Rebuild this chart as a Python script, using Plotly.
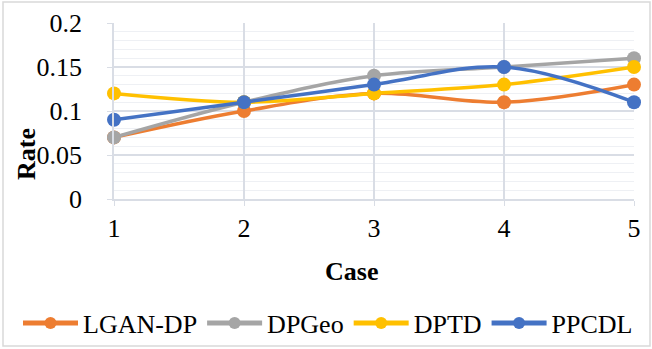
import plotly.graph_objects as go

cases = [1, 2, 3, 4, 5]
lgan_dp = [0.07, 0.10, 0.12, 0.11, 0.13]
dpgeo = [0.07, 0.11, 0.14, 0.15, 0.16]
dptd = [0.12, 0.11, 0.12, 0.13, 0.15]
ppcdl = [0.09, 0.11, 0.13, 0.15, 0.11]

series = [
    ("LGAN-DP", lgan_dp, "#ED7D31"),
    ("DPGeo", dpgeo, "#A5A5A5"),
    ("DPTD", dptd, "#FFC000"),
    ("PPCDL", ppcdl, "#4472C4"),
]

FONT = "Liberation Serif"
W, H = 652, 349
L, R, T, B = 114, 18, 23, 150
pw, ph = W - L - R, H - T - B

fig = go.Figure()
for name, vals, col in series:
    fig.add_trace(go.Scatter(
        x=cases, y=vals, name=name, mode="lines+markers",
        line=dict(color=col, width=3.5, shape="spline", smoothing=1),
        marker=dict(color=col, size=14),
        cliponaxis=False,
    ))

grid = "#D9DDE5"
fig.update_layout(
    width=W, height=H,
    margin=dict(l=L, r=R, t=T, b=B, autoexpand=False),
    paper_bgcolor="white", plot_bgcolor="white",
    font=dict(family=FONT, size=26, color="black"),
    showlegend=True,
    legend=dict(orientation="h", x=(18 - L) / pw, xanchor="left",
                y=(T + ph - 323) / ph, yanchor="middle",
                font=dict(size=26, family=FONT, color="black"), itemwidth=55,
                itemsizing="constant", bgcolor="rgba(0,0,0,0)"),
    xaxis=dict(range=[1, 5], tickvals=cases, ticktext=[str(c) for c in cases],
               showgrid=True, gridcolor=grid, gridwidth=1.5, zeroline=False,
               showline=True, linecolor=grid, linewidth=1.5,
               ticks="outside", ticklen=5, tickcolor=grid, ticklabelstandoff=0,
               tickfont=dict(size=26, family=FONT, color="black")),
    yaxis=dict(range=[0, 0.2], tickvals=[0, 0.05, 0.1, 0.15, 0.2],
               ticktext=["0", "0.05", "0.1", "0.15", "0.2"],
               showgrid=True, gridcolor=grid, gridwidth=1.5, zeroline=False,
               showline=True, linecolor=grid, linewidth=1.5,
               ticks="outside", ticklen=5, tickcolor=grid, ticklabelstandoff=20,
               tickfont=dict(size=26, family=FONT, color="black"),
               minor=dict(dtick=0.01, showgrid=True, gridcolor="#EEF0F4", gridwidth=1, ticks="")),
)

# axis titles
fig.add_annotation(text="<b>Rate</b>", textangle=-90, xref="paper", yref="paper",
                   x=(26 - L) / pw, y=(T + ph - 154) / ph, showarrow=False,
                   font=dict(size=26, family=FONT, color="black"), xanchor="center", yanchor="middle")
fig.add_annotation(text="<b>Case</b>", xref="paper", yref="paper",
                   x=(351 - L) / pw, y=(T + ph - 271) / ph, showarrow=False,
                   font=dict(size=26, family=FONT, color="black"), xanchor="center", yanchor="middle")

# chart border
fig.add_shape(type="rect", xref="paper", yref="paper",
              x0=(3 - L) / pw, x1=(650 - L) / pw,
              y0=(T + ph - 346) / ph, y1=(T + ph - 2) / ph,
              line=dict(color="#D9D9D9", width=1.5), layer="below")

fig.write_html("out.html")
